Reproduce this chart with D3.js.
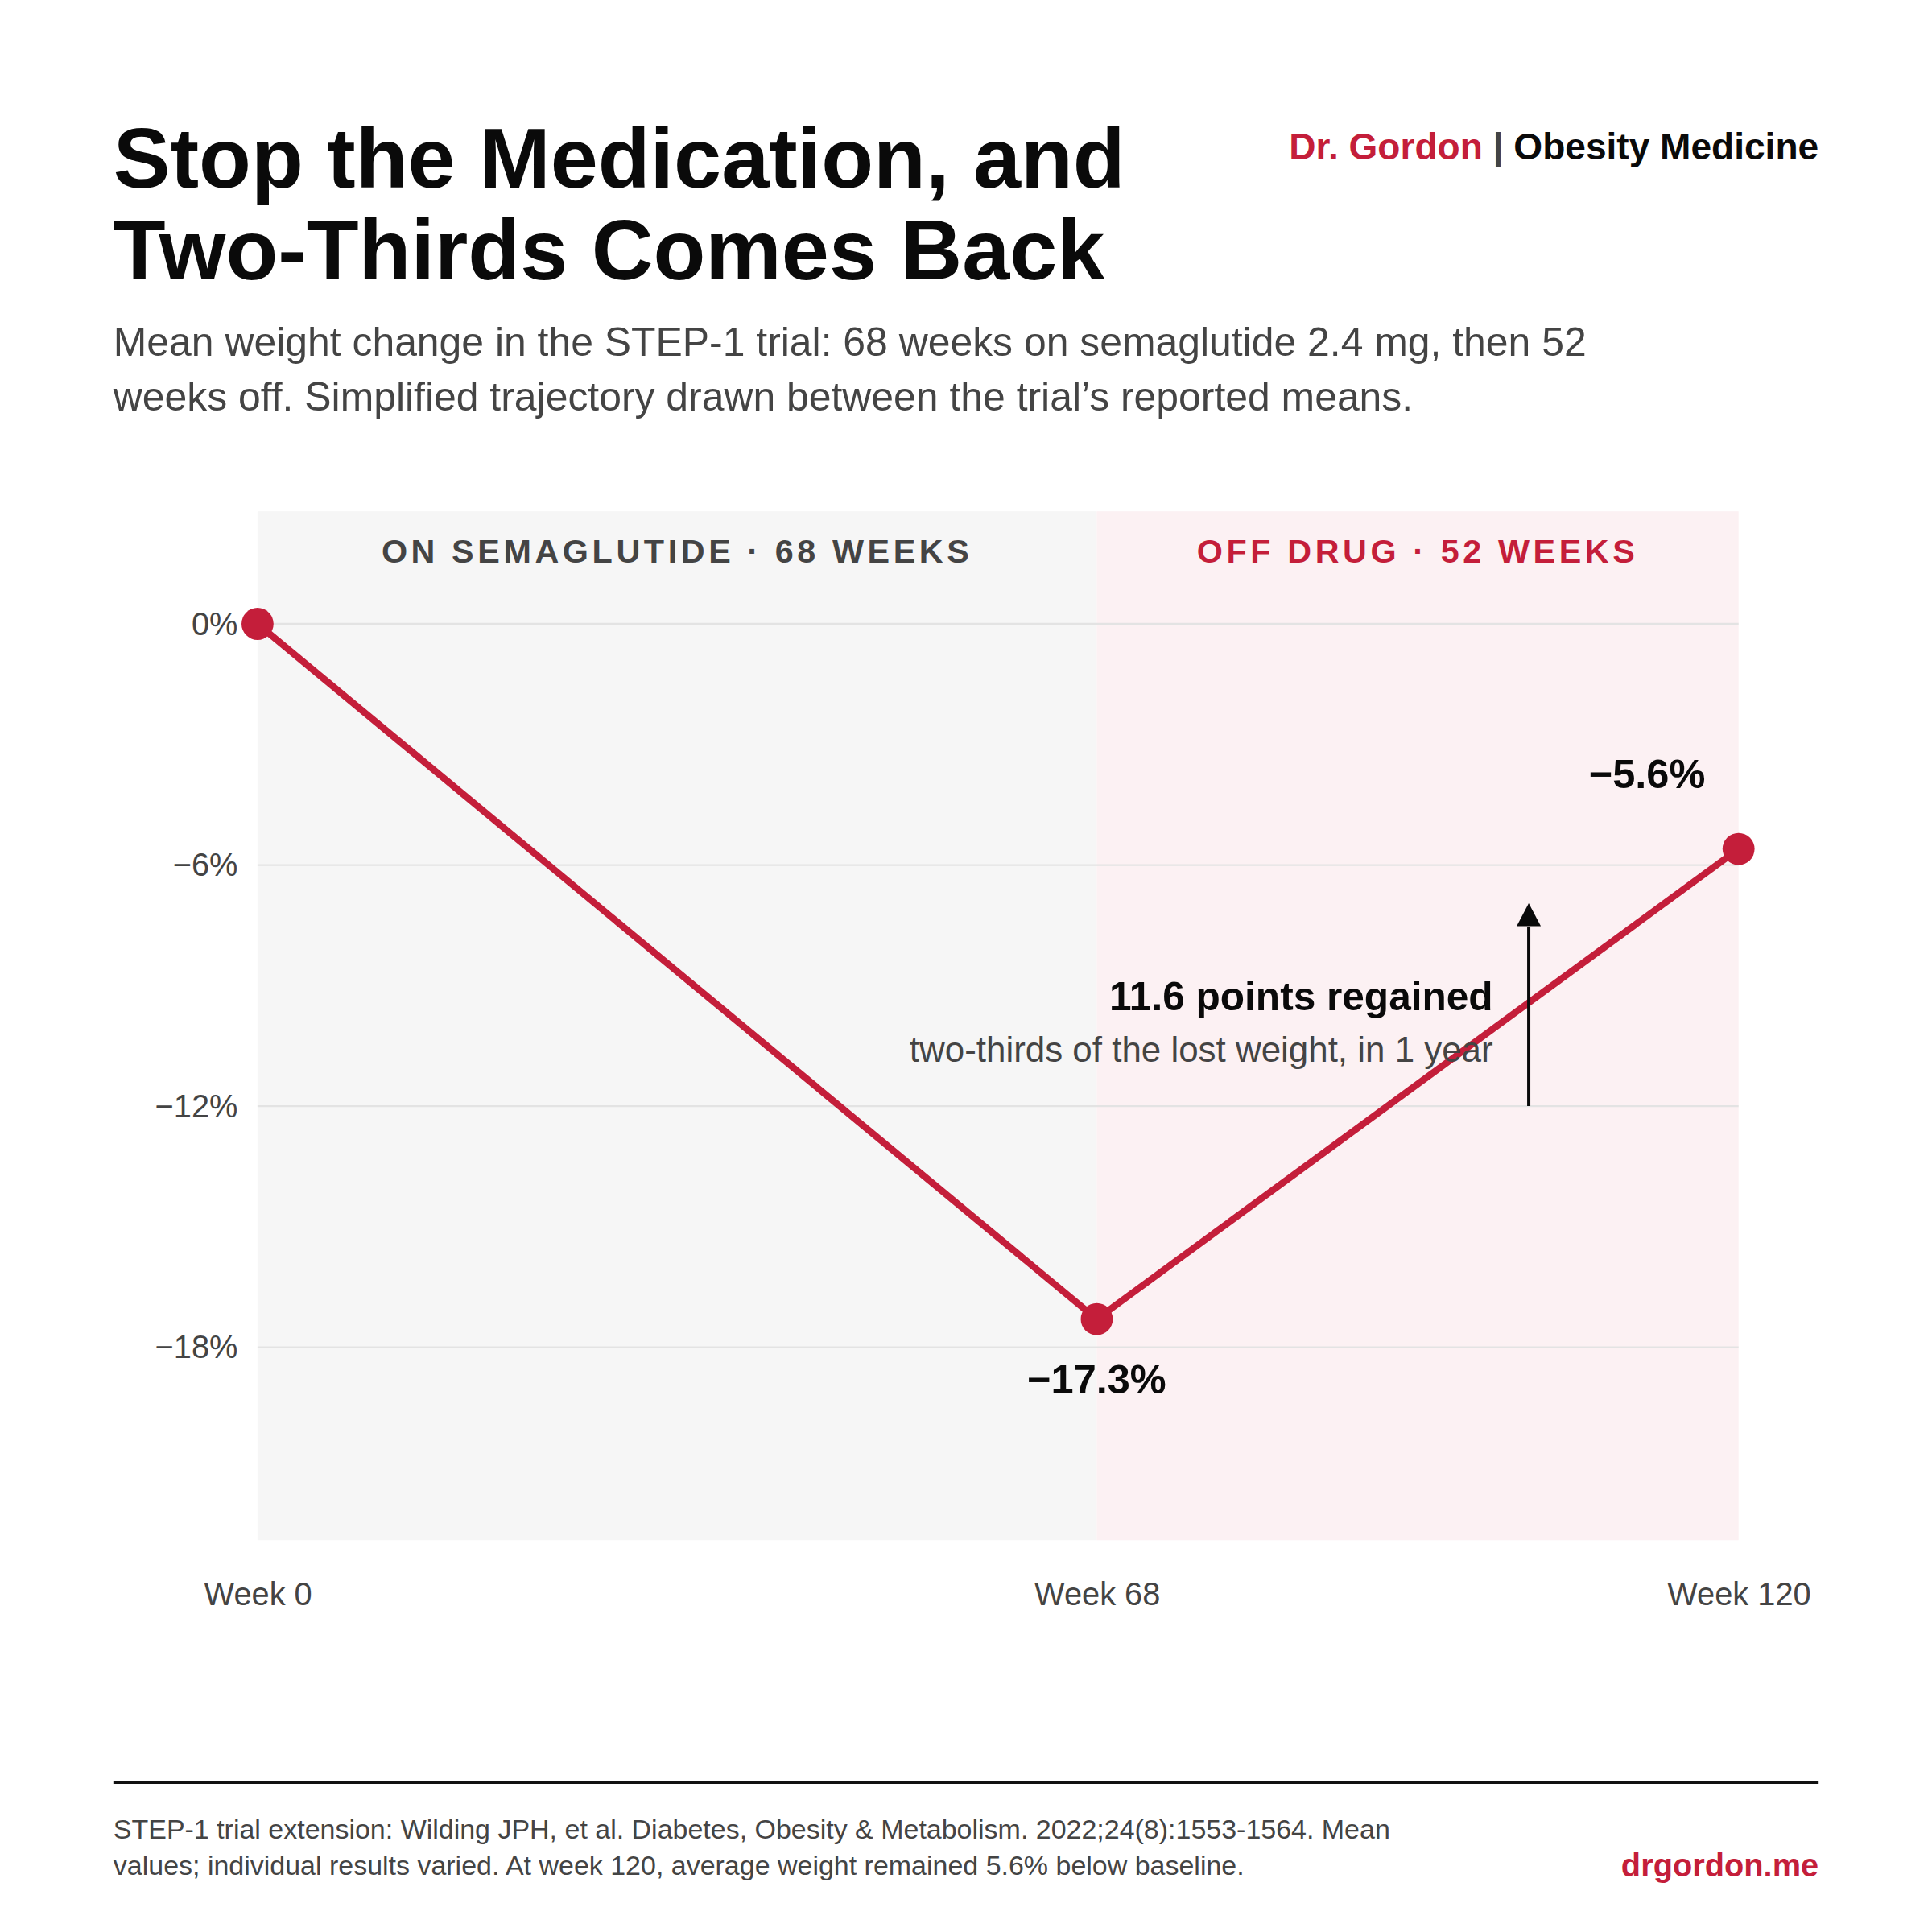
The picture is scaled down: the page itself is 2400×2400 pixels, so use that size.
<!DOCTYPE html>
<html><head><meta charset="utf-8">
<script src="https://cdn.jsdelivr.net/npm/d3@7"></script>
<style>html,body{margin:0;padding:0;background:#fff}svg{display:block}</style>
</head><body>
<script>
// ---- data ----
const weeks = [0, 68, 120];
const weightChange = [0, -17.3, -5.6];
const xTickLabels = ["Week 0", "Week 68", "Week 120"];
const yTicks = [0, -6, -12, -18];
const yTickLabels = ["0%", "−6%", "−12%", "−18%"];
const phaseLabels = ["ON SEMAGLUTIDE · 68 WEEKS", "OFF DRUG · 52 WEEKS"];
const phaseStarts = [0, 68];
const phaseEnds = [68, 120];
const regainArrow = {week: 103, from: -12, to: -6.95};
const annotationLines = ["11.6 points regained", "two-thirds of the lost weight, in 1 year"];
const titleLines = ["Stop the Medication, and", "Two-Thirds Comes Back"];
const subtitleLines = [
  "Mean weight change in the STEP-1 trial: 68 weeks on semaglutide 2.4 mg, then 52",
  "weeks off. Simplified trajectory drawn between the trial’s reported means."
];
const footerLines = [
  "STEP-1 trial extension: Wilding JPH, et al. Diabetes, Obesity & Metabolism. 2022;24(8):1553-1564. Mean",
  "values; individual results varied. At week 120, average weight remained 5.6% below baseline."
];

// ---- styles ----
const RED = "#c41e3a", INK = "#0a0a0a", GREY = "#444444";
const FONT = "'Liberation Sans', Arial, Helvetica, sans-serif";

const svg = d3.select("body").append("svg")
  .attr("width", 2400).attr("height", 2400)
  .attr("viewBox", "0 0 1568 1568")
  .style("font-family", FONT);

svg.append("rect").attr("width", 1568).attr("height", 1568).attr("fill", "#fff");

// header
const title = svg.append("text").attr("fill", INK).attr("font-weight", 700).attr("font-size", 69.4);
titleLines.forEach((t, i) => title.append("tspan").attr("x", 92).attr("y", 152 + i * 74.5).text(t));

const sub = svg.append("text").attr("fill", GREY).attr("font-size", 32.6);
subtitleLines.forEach((t, i) => sub.append("tspan").attr("x", 92).attr("y", 288.6 + i * 44.5).text(t));

const brand = svg.append("text").attr("x", 1476).attr("y", 129.5).attr("text-anchor", "end")
  .attr("font-size", 30.1).attr("font-weight", 700);
brand.append("tspan").attr("fill", RED).text("Dr. Gordon");
brand.append("tspan").attr("fill", GREY).text(" | ");
brand.append("tspan").attr("fill", INK).text("Obesity Medicine");

// scales
const x = d3.scaleLinear().domain([0, 120]).range([209, 1411]);
const y = d3.scaleLinear().domain([2.8, -22.8]).range([415, 1250]);
const [yTop, yBot] = y.range();

// phase backgrounds
const phaseFills = ["#f6f6f6", "#fcf1f3"];
svg.selectAll("rect.phase").data(phaseStarts).join("rect").attr("class", "phase")
  .attr("x", (d) => x(d)).attr("width", (d, i) => x(phaseEnds[i]) - x(d))
  .attr("y", yTop).attr("height", yBot - yTop)
  .attr("fill", (d, i) => phaseFills[i]);

svg.selectAll("text.phase").data(phaseLabels).join("text").attr("class", "phase")
  .attr("x", (d, i) => (x(phaseStarts[i]) + x(phaseEnds[i])) / 2)
  .attr("y", 457).attr("text-anchor", "middle")
  .attr("font-size", 27).attr("font-weight", 700).attr("letter-spacing", 3)
  .attr("fill", (d, i) => i === 0 ? GREY : RED).text(d => d);

// gridlines
svg.selectAll("line.grid").data(yTicks).join("line").attr("class", "grid")
  .attr("x1", x(0)).attr("x2", x(120)).attr("y1", d => y(d)).attr("y2", d => y(d))
  .attr("stroke", "#e3e3e3").attr("stroke-width", 1.5);

// axes
const yAxis = svg.append("g").attr("transform", `translate(${x(0)},0)`)
  .call(d3.axisLeft(y).tickValues(yTicks).tickFormat((d, i) => yTickLabels[i]).tickSize(0).tickPadding(16));
yAxis.select(".domain").remove();
yAxis.selectAll("text").attr("font-size", 26).attr("font-family", FONT).attr("fill", GREY);

const xAxis = svg.append("g").attr("transform", `translate(0,${yBot})`)
  .call(d3.axisBottom(x).tickValues(weeks).tickFormat((d, i) => xTickLabels[i]).tickSize(0).tickPadding(34.5));
xAxis.select(".domain").remove();
xAxis.selectAll("text").attr("font-size", 26).attr("font-family", FONT).attr("fill", GREY);

// line + points
const pts = weeks.map((w, i) => [w, weightChange[i]]);
svg.append("path").datum(pts)
  .attr("d", d3.line().x(d => x(d[0])).y(d => y(d[1])))
  .attr("fill", "none").attr("stroke", RED).attr("stroke-width", 5.5)
  .attr("stroke-linejoin", "round").attr("stroke-linecap", "round");
svg.selectAll("circle.pt").data(pts).join("circle").attr("class", "pt")
  .attr("cx", d => x(d[0])).attr("cy", d => y(d[1])).attr("r", 13).attr("fill", RED);

// value labels
const fmt = v => (v < 0 ? "−" : "") + Math.abs(v).toFixed(1) + "%";
svg.append("text").attr("x", x(weeks[1])).attr("y", y(weightChange[1]) + 60)
  .attr("text-anchor", "middle").attr("font-size", 33).attr("font-weight", 700).attr("fill", INK)
  .text(fmt(weightChange[1]));
svg.append("text").attr("x", x(weeks[2]) - 27).attr("y", y(weightChange[2]) - 49.5)
  .attr("text-anchor", "end").attr("font-size", 33).attr("font-weight", 700).attr("fill", INK)
  .text(fmt(weightChange[2]));

// regain arrow
const ax = x(regainArrow.week), tipY = y(regainArrow.to), baseY = tipY + 18.6;
svg.append("line").attr("x1", ax).attr("x2", ax).attr("y1", y(regainArrow.from)).attr("y2", baseY + 1)
  .attr("stroke", INK).attr("stroke-width", 2.6);
svg.append("path").attr("d", `M${ax},${tipY}L${ax + 9.8},${baseY}L${ax - 9.8},${baseY}Z`).attr("fill", INK);

svg.append("text").attr("x", ax - 29).attr("y", 820).attr("text-anchor", "end")
  .attr("font-size", 32.4).attr("font-weight", 700).attr("fill", INK)
  .text(annotationLines[0]);
svg.append("text").attr("x", ax - 29).attr("y", 862).attr("text-anchor", "end")
  .attr("font-size", 28.7).attr("fill", GREY)
  .text(annotationLines[1]);

// footer
svg.append("line").attr("x1", 92).attr("x2", 1476).attr("y1", 1446.5).attr("y2", 1446.5)
  .attr("stroke", "#111").attr("stroke-width", 2.6);
const foot = svg.append("text").attr("fill", GREY).attr("font-size", 22.2);
footerLines.forEach((t, i) => foot.append("tspan").attr("x", 92).attr("y", 1492 + i * 29.5).text(t));
svg.append("text").attr("x", 1476).attr("y", 1523).attr("text-anchor", "end")
  .attr("font-size", 26).attr("font-weight", 700).attr("fill", RED).text("drgordon.me");
</script>
</body></html>
